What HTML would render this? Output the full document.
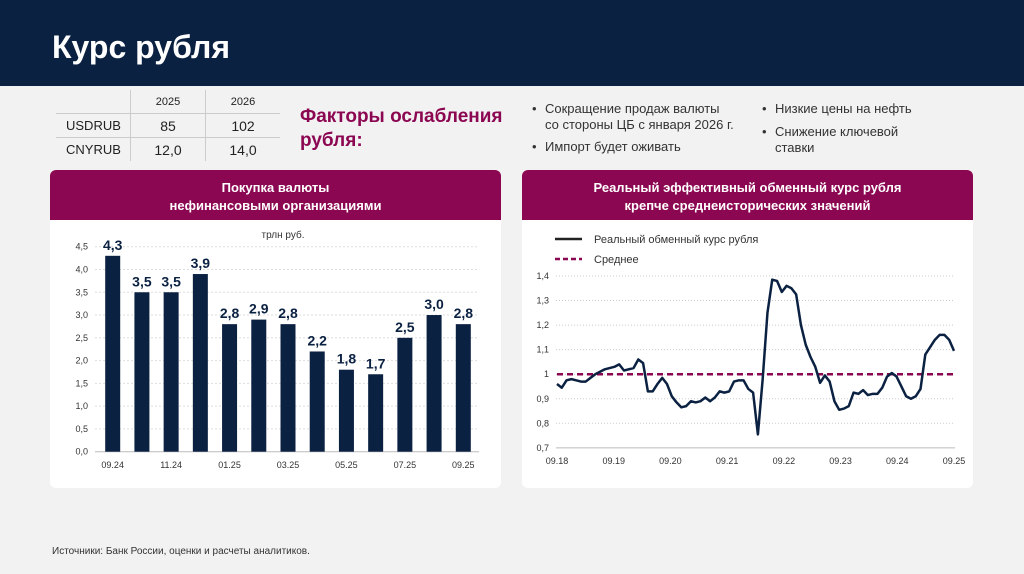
<!DOCTYPE html>
<html><head><meta charset="utf-8"><style>
body{margin:0;width:1024px;height:574px;background:#f2f2f2;font-family:"Liberation Sans",sans-serif;position:relative;overflow:hidden;color:#222}
.hdr{position:absolute;left:0;top:0;width:1024px;height:86px;background:#0b2142}
.hdr h1{position:absolute;left:52px;top:29px;margin:0;color:#fff;font-size:32px;font-weight:bold}
.panel{position:absolute;top:170px;width:451px;height:318px;background:#fff;border-radius:6px;overflow:hidden}
.ph{height:50px;background:#8c0752;color:#fff;font-weight:bold;font-size:13px;text-align:center;line-height:18px;padding-top:9px;box-sizing:border-box}
table{position:absolute;left:56px;top:90px;border-collapse:collapse;font-size:13px}
td{height:23px;padding:0;text-align:center}
.b{position:absolute;font-size:13px;color:#333;line-height:16px}
.b:before{content:"•";position:absolute;left:-13px}
</style></head><body>
<div class="hdr"><h1>Курс рубля</h1></div>
<table>
<tr><td style="width:74px;border-right:1px solid #ccc"></td><td style="width:74px;border-right:1px solid #ccc;font-size:11px">2025</td><td style="width:74px;font-size:11px">2026</td></tr>
<tr style="border-top:1px solid #ccc;border-bottom:1px solid #ccc"><td style="border-right:1px solid #ccc;text-align:left;padding-left:10px">USDRUB</td><td style="border-right:1px solid #ccc;font-size:14px">85</td><td style="font-size:14px">102</td></tr>
<tr><td style="border-right:1px solid #ccc;text-align:left;padding-left:10px">CNYRUB</td><td style="border-right:1px solid #ccc;font-size:14px">12,0</td><td style="font-size:14px">14,0</td></tr>
</table>
<div style="position:absolute;left:300px;top:105px;color:#8c0752;font-weight:bold;font-size:19px;line-height:24px">Факторы ослабления<br>рубля:</div>
<div class="b" style="left:545px;top:101px">Сокращение продаж валюты<br>со стороны ЦБ с января 2026 г.</div>
<div class="b" style="left:545px;top:139px">Импорт будет оживать</div>
<div class="b" style="left:775px;top:101px">Низкие цены на нефть</div>
<div class="b" style="left:775px;top:124px">Снижение ключевой<br>ставки</div>
<div class="panel" style="left:50px"><div class="ph">Покупка валюты<br>нефинансовыми организациями</div></div>
<div class="panel" style="left:522px"><div class="ph">Реальный эффективный обменный курс рубля<br>крепче среднеисторических значений</div></div>
<svg id="c" width="1024" height="574" style="position:absolute;left:0;top:0" font-family="Liberation Sans, sans-serif"></svg>
<div style="position:absolute;left:52px;top:546px;font-size:10px;color:#333">Источники: Банк России, оценки и расчеты аналитиков.</div>
<script>
const barCats=["09.24","10.24","11.24","12.24","01.25","02.25","03.25","04.25","05.25","06.25","07.25","08.25","09.25"];
const barVals=[4.3,3.5,3.5,3.9,2.8,2.9,2.8,2.2,1.8,1.7,2.5,3.0,2.8];
const barTicks=[0,0.5,1,1.5,2,2.5,3,3.5,4,4.5];
const lineVals=[0.96,0.945,0.975,0.98,0.975,0.97,0.97,0.985,1.0,1.01,1.02,1.025,1.03,1.04,1.015,1.02,1.025,1.06,1.045,0.93,0.93,0.96,0.985,0.96,0.91,0.885,0.865,0.87,0.89,0.885,0.89,0.905,0.89,0.905,0.93,0.925,0.93,0.97,0.975,0.975,0.94,0.925,0.755,0.98,1.25,1.385,1.38,1.335,1.36,1.35,1.325,1.2,1.12,1.07,1.03,0.965,0.995,0.97,0.89,0.855,0.86,0.87,0.925,0.92,0.935,0.915,0.92,0.92,0.945,0.99,1.005,0.99,0.95,0.91,0.9,0.91,0.94,1.08,1.11,1.14,1.16,1.16,1.14,1.095];
const lineTicks=[0.7,0.8,0.9,1,1.1,1.2,1.3,1.4];
const lineXLabels=["09.18","09.19","09.20","09.21","09.22","09.23","09.24","09.25"];
const avgVal=1.0;
const NS="http://www.w3.org/2000/svg",svg=document.getElementById('c');
function mk(t,a,txt){const e=document.createElementNS(NS,t);for(const k in a)e.setAttribute(k,a[k]);if(txt!=null)e.textContent=txt;svg.appendChild(e);return e;}
const by=v=>451.7-v/4.5*205, bx=i=>112.7+i*(463.3-112.7)/(barCats.length-1);
const u=mk('text',{x:283,y:238,'font-size':10,'text-anchor':'middle',fill:'#333'},'трлн руб.');


barTicks.forEach(t=>{
 const g=mk('line',{x1:95,x2:479,y1:by(t),y2:by(t),stroke:t?'#ddd':'#bbb','stroke-dasharray':t?'2,2':''});
 
 
 const l=mk('text',{x:88,y:by(t)+3,'font-size':9,'text-anchor':'end',fill:'#333'},t.toFixed(1).replace('.',','));
 
 
});
barVals.forEach((v,i)=>{
 const r=mk('rect',{x:bx(i)-7.5,y:by(v),width:15,height:by(0)-by(v),fill:'#0b2142'});
 
 
 const t=mk('text',{x:bx(i),y:by(v)-6,'font-size':14,'font-weight':'bold','text-anchor':'middle',fill:'#0b2142'},v.toFixed(1).replace('.',','));
 
 
 if(i%2==0){const x=mk('text',{x:bx(i),y:468,'font-size':9,'text-anchor':'middle',fill:'#333'},barCats[i]);
 
 }
});
const ly=v=>276-(v-1.4)/0.1*24.55, lx=i=>557+i*(954-557)/(lineVals.length-1);
lineTicks.forEach(t=>{
 const g=mk('line',{x1:556,x2:955,y1:ly(t),y2:ly(t),stroke:t>0.75?'#ccc':'#bbb','stroke-dasharray':t>0.75?'1,2':''});
 
 
 const l=mk('text',{x:549,y:ly(t)+3,'font-size':9,'text-anchor':'end',fill:'#333'},String(t).replace('.',','));
 
 
});
lineXLabels.forEach((s,i)=>{const x=mk('text',{x:557+i*(954-557)/7,y:464,'font-size':9,'text-anchor':'middle',fill:'#333'},s);
 
 });
const a=mk('line',{x1:557,x2:954,y1:ly(avgVal),y2:ly(avgVal),stroke:'#8c0752','stroke-width':2.5,'stroke-dasharray':'6,4'});


const p=mk('polyline',{points:lineVals.map((v,i)=>lx(i)+','+ly(v)).join(' '),fill:'none',stroke:'#0b2142','stroke-width':2.5,'stroke-linejoin':'round'});


const l1=mk('line',{x1:555,x2:582,y1:239,y2:239,stroke:'#222','stroke-width':2.5});


const l2=mk('line',{x1:555,x2:582,y1:259,y2:259,stroke:'#8c0752','stroke-width':2.5,'stroke-dasharray':'5,3'});


const t1=mk('text',{x:594,y:243,'font-size':11,fill:'#333'},'Реальный обменный курс рубля');


const t2=mk('text',{x:594,y:263,'font-size':11,fill:'#333'},'Среднее');


</script>
</body></html>
